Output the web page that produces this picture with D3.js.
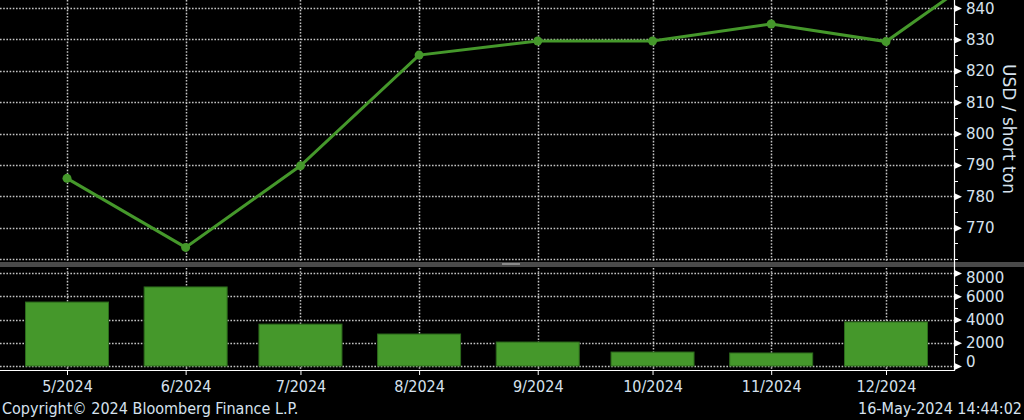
<!DOCTYPE html>
<html>
<head>
<meta charset="utf-8">
<script src="https://cdn.jsdelivr.net/npm/d3@7"></script>
<style>
  body { margin: 0; background: #000; }
  svg { display: block; }
</style>
</head>
<body>
<div id="chart"></div>
<script>
// Data
var priceMonths = ["2024-05", "2024-06", "2024-07", "2024-08", "2024-09", "2024-10", "2024-11", "2024-12", "2025-01"];
var prices = [785.7, 763.7, 789.7, 825, 829.5, 829.5, 834.9, 829.3, 856];
var volumeMonths = ["2024-05", "2024-06", "2024-07", "2024-08", "2024-09", "2024-10", "2024-11", "2024-12"];
var volumes = [5500, 6800, 3600, 2750, 2060, 1200, 1120, 3790];
var priceTicks = [770, 780, 790, 800, 810, 820, 830, 840];
var priceMinorTicks = [765, 775, 785, 795, 805, 815, 825, 835];
var volumeTicks = [0, 2000, 4000, 6000, 8000];
var volumeMinorTicks = [1000, 3000, 5000, 7000];
var axisTitle = "USD / short ton";
var copyright = "Copyright\u00a9 2024 Bloomberg Finance L.P.";
var stamp = "16-May-2024 14:44:02";

var svgWidth = 1024;
var svgHeight = 420;
var plotRight = 954;

var parseMonth = d3.utcParse("%Y-%m");
var priceData = priceMonths.map(function(m, i) { return { date: parseMonth(m), value: prices[i] }; });
var volumeData = volumeMonths.map(function(m, i) { return { date: parseMonth(m), value: volumes[i] }; });

var labelColor = "#d6e2ee";
var gridColor = "#c4c4c4";
var green = "#45982b";
var narrowFont = "'DejaVu Sans Condensed', 'Liberation Sans Narrow', sans-serif";

var svg = d3.select("#chart")
  .append("svg")
  .attr("width", svgWidth)
  .attr("height", svgHeight);

svg.append("rect").attr("width", svgWidth).attr("height", svgHeight).attr("fill", "#000");

// Scales
var x = d3.scaleUtc()
  .domain([parseMonth("2024-05"), parseMonth("2024-12")])
  .range([67, 886]);

var yPrice = d3.scaleLinear().domain([760, 840]).range([259, 8]);
var yVolume = d3.scaleLinear().domain([0, 8000]).range([366, 273]);

var topPanel = { top: 0, bottom: 261 };
var bottomPanel = { top: 268, bottom: 370 };

// Clip for the top panel
svg.append("clipPath").attr("id", "clipTop")
  .append("rect").attr("x", 0).attr("y", topPanel.top)
  .attr("width", plotRight).attr("height", topPanel.bottom - topPanel.top);

// Grid lines
function hGrid(scale, ticks) {
  svg.append("g")
    .selectAll("line")
    .data(ticks)
    .enter()
    .append("line")
    .attr("x1", 0)
    .attr("x2", plotRight)
    .attr("y1", d => Math.round(scale(d)) + 0.5)
    .attr("y2", d => Math.round(scale(d)) + 0.5)
    .attr("stroke", gridColor)
    .attr("stroke-width", 1.5)
    .attr("stroke-dasharray", "1.6,1.6");
}
hGrid(yPrice, [760].concat(priceTicks));
hGrid(yVolume, volumeTicks);

var monthTicks = volumeData.map(d => d.date);
[topPanel, bottomPanel].forEach(function(p) {
  svg.append("g")
    .selectAll("line")
    .data(monthTicks)
    .enter()
    .append("line")
    .attr("x1", d => Math.round(x(d)) + 0.5)
    .attr("x2", d => Math.round(x(d)) + 0.5)
    .attr("y1", p.top)
    .attr("y2", p.bottom)
    .attr("stroke", gridColor)
    .attr("stroke-width", 1.5)
    .attr("stroke-dasharray", "1.6,1.6");
});

// Panel separator
svg.append("rect").attr("x", 0).attr("y", 262).attr("width", svgWidth).attr("height", 5).attr("fill", "#4a4a4a");
svg.append("rect").attr("x", 502).attr("y", 263).attr("width", 18).attr("height", 2).attr("fill", "#8a8a8a");

// Bars
var barWidth = 83;
svg.append("g")
  .selectAll("rect")
  .data(volumeData)
  .enter()
  .append("rect")
  .attr("x", d => x(d.date) - barWidth / 2)
  .attr("y", d => yVolume(d.value))
  .attr("width", barWidth)
  .attr("height", d => yVolume(0) - yVolume(d.value))
  .attr("fill", green)
  .attr("stroke", "#2c6a1c")
  .attr("stroke-width", 1);

// Price line
var line = d3.line()
  .x(d => x(d.date))
  .y(d => yPrice(d.value));

var priceGroup = svg.append("g").attr("clip-path", "url(#clipTop)");
priceGroup.append("path")
  .datum(priceData)
  .attr("d", line)
  .attr("fill", "none")
  .attr("stroke", green)
  .attr("stroke-width", 3);

priceGroup.selectAll("circle")
  .data(priceData)
  .enter()
  .append("circle")
  .attr("cx", d => x(d.date))
  .attr("cy", d => yPrice(d.value))
  .attr("r", 4.5)
  .attr("fill", green);

// Axis frame
svg.append("line").attr("x1", plotRight + 0.5).attr("x2", plotRight + 0.5)
  .attr("y1", 0).attr("y2", 371).attr("stroke", "#fff").attr("stroke-width", 1.2);
svg.append("line").attr("x1", 0).attr("x2", plotRight + 1)
  .attr("y1", 370.5).attr("y2", 370.5).attr("stroke", "#fff").attr("stroke-width", 1.2);

// Bottom axis
var xAxis = d3.axisBottom(x)
  .tickValues(monthTicks)
  .tickFormat(d3.utcFormat("%-m/%Y"))
  .tickSize(4)
  .tickPadding(6);

var xg = svg.append("g")
  .attr("transform", "translate(0, 371)")
  .call(xAxis);
xg.select(".domain").remove();
xg.selectAll(".tick line").attr("stroke", "#fff");
xg.selectAll(".tick text")
  .attr("fill", labelColor)
  .attr("font-family", narrowFont)
  .attr("font-size", 16);

// Right axes
function rightAxis(scale, ticks, minor, nudge) {
  var axis = d3.axisRight(scale).tickValues(ticks).tickFormat(d3.format("d")).tickSize(0).tickPadding(12);
  var g = svg.append("g")
    .attr("transform", `translate(${plotRight}, 0)`)
    .call(axis);
  g.select(".domain").remove();
  g.selectAll(".tick text")
    .attr("fill", labelColor)
    .attr("font-family", "'DejaVu Sans', sans-serif")
    .attr("font-size", 15)
    .attr("dy", d => (0.34 + (nudge[d] || 0)) + "em");
  g.selectAll(".tick")
    .append("path")
    .attr("d", "M0.5,-3.5L8,0L0.5,3.5Z")
    .attr("fill", "#fff");
  g.selectAll(".minor")
    .data(minor)
    .enter()
    .append("line")
    .attr("x1", 0)
    .attr("x2", 4)
    .attr("y1", d => Math.round(scale(d)) + 0.5)
    .attr("y2", d => Math.round(scale(d)) + 0.5)
    .attr("stroke", "#fff");
}
rightAxis(yPrice, priceTicks, priceMinorTicks.concat([760]), {});
rightAxis(yVolume, volumeTicks, volumeMinorTicks, { 8000: 0.28, 0: -0.28 });

// Axis title
svg.append("text")
  .attr("transform", "translate(1003, 129) rotate(90)")
  .attr("text-anchor", "middle")
  .attr("fill", labelColor)
  .attr("font-family", "'DejaVu Sans', sans-serif")
  .attr("font-size", 17)
  .text(axisTitle);

// Footer
svg.append("text")
  .attr("x", 2)
  .attr("y", 414)
  .attr("fill", labelColor)
  .attr("font-family", narrowFont)
  .attr("font-size", 16)
  .text(copyright);

svg.append("text")
  .attr("x", 1022)
  .attr("y", 414)
  .attr("text-anchor", "end")
  .attr("fill", labelColor)
  .attr("font-family", narrowFont)
  .attr("font-size", 16)
  .text(stamp);
</script>
</body>
</html>
